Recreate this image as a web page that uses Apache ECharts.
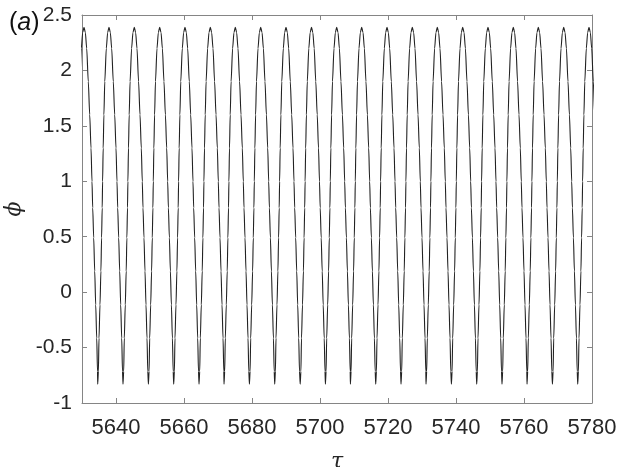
<!DOCTYPE html>
<html>
<head>
<meta charset="utf-8">
<script src="https://cdn.jsdelivr.net/npm/echarts@6/dist/echarts.min.js"></script>
<style>
  html, body { margin: 0; padding: 0; background: #fff; }
  #chart { width: 617px; height: 467px; }
</style>
</head>
<body>
<div id="chart"></div>
<script>
// Times of the oscillation maxima of phi
const peakTimes = [5630.59, 5637.94, 5645.38, 5652.85, 5660.29, 5667.74, 5675.09,
  5682.56, 5690.00, 5697.50, 5704.91, 5712.26, 5719.71, 5727.15, 5734.50,
  5741.97, 5749.41, 5756.85, 5764.21, 5771.68, 5779.12];

// One cycle of the waveform: rise into a maximum (offsets before the peak)
const riseOffsets = [-3.32, -3.12, -2.94, -2.65, -2.38, -2.18, -2.00, -1.88, -1.71, -1.50, -1.24, -0.79, -0.40];
const riseValues  = [-0.83, -0.715, -0.415, -0.115, 0.19, 0.49, 0.76, 1.00, 1.30, 1.60, 1.90, 2.20, 2.34];
// ...and fall away from it (offsets after the peak)
const fallOffsets = [0, 0.40, 0.79, 1.26, 1.68, 2.06, 2.35, 2.56, 2.85, 3.15, 3.44, 3.74, 3.97];
const fallValues  = [2.39, 2.34, 2.20, 1.90, 1.60, 1.30, 1.00, 0.76, 0.49, 0.19, -0.115, -0.415, -0.715];

const xTicks = [5640, 5660, 5680, 5700, 5720, 5740, 5760, 5780];
const yTicks = [-1, -0.5, 0, 0.5, 1, 1.5, 2, 2.5];

const series = [];
peakTimes.forEach(p => {
  riseOffsets.forEach((d, i) => series.push([p + d, riseValues[i]]));
  fallOffsets.forEach((d, i) => series.push([p + d, fallValues[i]]));
});

const axisGray = '#858585';
const textColor = '#262626';
const font = 'Liberation Sans, Arial, Helvetica, sans-serif';

const chart = echarts.init(document.getElementById('chart'), null, { renderer: 'canvas' });

const baseX = {
  type: 'value', min: 5630, max: 5780,
  axisLine: { show: true, onZero: false, lineStyle: { color: axisGray, width: 1 } },
  axisTick: { show: true, inside: true, length: 5, customValues: xTicks, lineStyle: { color: axisGray } },
  splitLine: { show: false }
};
const baseY = {
  type: 'value', min: -1, max: 2.5,
  axisLine: { show: true, onZero: false, lineStyle: { color: axisGray, width: 1 } },
  axisTick: { show: true, inside: true, length: 5, customValues: yTicks, lineStyle: { color: axisGray } },
  splitLine: { show: false }
};

chart.setOption({
  animation: false,
  backgroundColor: '#fff',
  title: {
    text: '({i|a})',
    left: 4, top: 6,
    textStyle: {
      fontFamily: font, fontSize: 25, fontWeight: 'normal', color: '#111',
      rich: { i: { fontFamily: font, fontSize: 25, fontStyle: 'italic', color: '#111' } }
    }
  },
  grid: { left: 82, right: 25, top: 15, bottom: 64, containLabel: false, outerBoundsMode: 'none' },
  xAxis: [
    Object.assign({}, baseX, {
      position: 'bottom',
      axisLabel: { show: true, customValues: xTicks, formatter: v => String(v), margin: 14,
        color: textColor, fontFamily: font, fontSize: 22 },
      name: 'τ', nameLocation: 'middle', nameGap: 48,
      nameTextStyle: { fontFamily: 'DejaVu Serif, serif', fontStyle: 'italic', fontSize: 22, color: textColor }
    }),
    Object.assign({}, baseX, { position: 'top', axisLabel: { show: false } })
  ],
  yAxis: [
    Object.assign({}, baseY, {
      position: 'left',
      axisLabel: { show: true, customValues: yTicks, formatter: v => String(v), margin: 10,
        color: textColor, fontFamily: font, fontSize: 21 },
      name: 'ϕ', nameLocation: 'middle', nameGap: 56, nameRotate: 90,
      nameTextStyle: { fontFamily: 'DejaVu Serif, serif', fontStyle: 'italic', fontSize: 22, color: textColor }
    }),
    Object.assign({}, baseY, { position: 'right', axisLabel: { show: false } })
  ],
  series: [{
    type: 'line',
    data: series,
    showSymbol: false,
    smooth: 0.25,
    smoothMonotone: 'x',
    clip: true,
    lineStyle: { color: '#222', width: 1.1 }
  }]
});
</script>
</body>
</html>
